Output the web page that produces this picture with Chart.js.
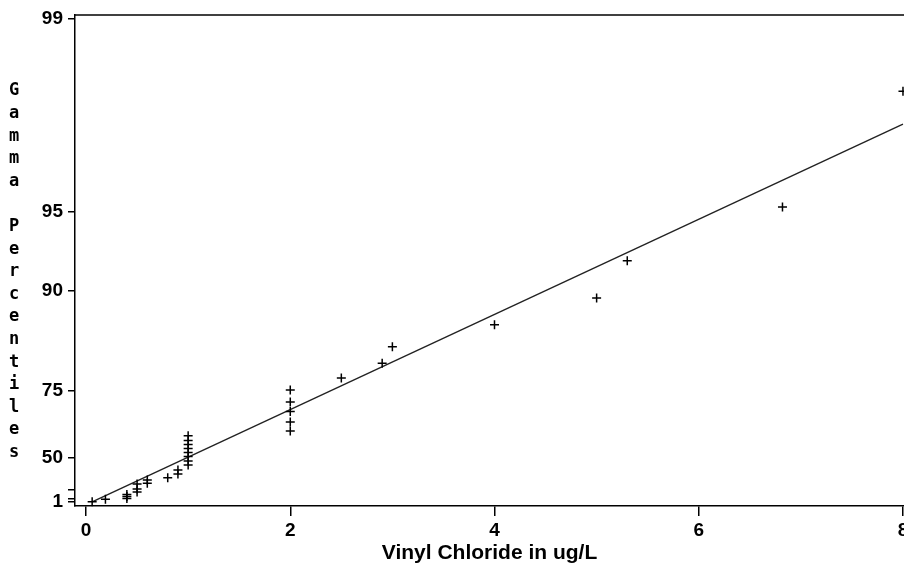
<!DOCTYPE html>
<html>
<head>
<meta charset="utf-8">
<script src="https://cdn.jsdelivr.net/npm/chart.js@4/dist/chart.umd.min.js"></script>
<style>
  html, body { margin: 0; padding: 0; background: #fff; overflow: hidden; }
  #wrap { width: 904px; height: 576px; overflow: hidden; }
</style>
</head>
<body>
<div id="wrap"><canvas id="grafico" width="910" height="576"></canvas></div>
<script>
// x axis
const xTicks = [0, 2, 4, 6, 8];

// y axis: gamma percentile scale (non linear), score = relative quantile position
const pctTicks  = [1, 10, 25, 50, 75, 90, 95, 99];
const pctLabels = ["1", "", "", "50", "75", "90", "95", "99"];
const pctScore  = [0, 0.68, 2.63, 9.21, 23.04, 43.75, 60.10, 100];

// observations: vinyl chloride (ug/L) and gamma plotting percentile
const conc = [0.06, 0.19, 0.4, 0.4, 0.4, 0.5, 0.5, 0.5, 0.6, 0.6, 0.8, 0.9, 0.9,
              1, 1, 1, 1, 1, 1, 1, 1, 2, 2, 2, 2, 2, 2.5, 2.9, 3.0, 4.0, 5.0, 5.3, 6.82, 8.0];
const pct  = [1.8, 8.4, 10.3, 13.5, 16.7, 20.7, 25.2, 29.2, 29.7, 32.3, 34.1, 37.0, 40.2,
              44.1, 47.3, 50.4, 51.9, 53.4, 54.9, 56.4, 58.1, 59.9, 63.3, 67.2, 70.8, 75.1,
              76.9, 79.1, 81.6, 84.9, 88.9, 91.9, 95.1, 97.5];

// fitted gamma line
const fitX   = [0.06, 8.0];
const fitPct = [1.54, 96.82];

const yTitle = "Gamma Percentiles";
const xTitle = "Vinyl Chloride in ug/L";

// percentile -> score along the plot's y axis
function toScore(p) {
    for (let i = 1; i < pctTicks.length; i++) {
        if (p <= pctTicks[i]) {
            const t = (p - pctTicks[i - 1]) / (pctTicks[i] - pctTicks[i - 1]);
            return pctScore[i - 1] + t * (pctScore[i] - pctScore[i - 1]);
        }
    }
    return pctScore[pctScore.length - 1];
}

const puntos = conc.map((c, i) => ({ x: c, y: toScore(pct[i]) }));
const linea = fitX.map((c, i) => ({ x: c, y: toScore(fitPct[i]) }));

const marco = {
    id: "marco",
    afterDraw(chart) {
        const { ctx, chartArea: a } = chart;
        ctx.save();
        ctx.strokeStyle = "#000";
        ctx.lineWidth = 1.5;
        ctx.beginPath();
        ctx.moveTo(a.left, a.top);
        ctx.lineTo(a.right, a.top);
        ctx.stroke();

        // vertical stacked y title
        ctx.fillStyle = "#000";
        ctx.font = "bold 17px 'DejaVu Sans Mono'";
        ctx.textAlign = "center";
        ctx.textBaseline = "middle";
        [...yTitle].forEach((ch, i) => {
            if (ch !== " ") ctx.fillText(ch, 14, 91 + i * 22.6);
        });
        ctx.restore();
    }
};

function sinPadding(scale) {
    scale.paddingLeft = 0;
    scale.paddingRight = 0;
    scale.paddingTop = 0;
    scale.paddingBottom = 0;
}

new Chart("grafico", {
    data: {
        datasets: [{
            type: "scatter",
            data: puntos,
            pointStyle: "cross",
            pointRadius: 4.5,
            pointBorderWidth: 1.5,
            borderColor: "#000",
            backgroundColor: "#000",
            clip: false
        }, {
            type: "line",
            data: linea,
            borderColor: "#222",
            borderWidth: 1.4,
            pointRadius: 0,
            fill: false
        }]
    },
    options: {
        responsive: false,
        animation: false,
        layout: { padding: { top: 15, right: 0, bottom: 0, left: 0 } },
        plugins: { legend: { display: false }, tooltip: { enabled: false } },
        scales: {
            x: {
                type: "linear",
                min: -0.108,
                max: 8.01,
                afterBuildTicks: (s) => { s.ticks = xTicks.map(v => ({ value: v })); },
                afterFit: (s) => { s.height = 70; sinPadding(s); },
                border: { display: true, color: "#000", width: 1.5 },
                grid: { display: true, drawOnChartArea: false, drawTicks: true, tickLength: 10, color: "#000", lineWidth: 1.5 },
                ticks: {
                    color: "#000",
                    padding: 3,
                    maxRotation: 0,
                    font: { family: "'Liberation Sans', Arial", size: 19, weight: "bold" }
                },
                title: {
                    display: true,
                    text: xTitle,
                    color: "#000",
                    padding: { top: 0, bottom: 10 },
                    font: { family: "'Liberation Sans', Arial", size: 21, weight: "bold" }
                }
            },
            y: {
                type: "linear",
                min: -0.83,
                max: 100.83,
                afterBuildTicks: (s) => { s.ticks = pctScore.map(v => ({ value: v })); },
                afterFit: (s) => { s.width = 75; sinPadding(s); },
                border: { display: true, color: "#000", width: 1.5 },
                grid: { display: true, drawOnChartArea: false, drawTicks: true, tickLength: 7, color: "#000", lineWidth: 1.5 },
                ticks: {
                    color: "#000",
                    padding: 5,
                    autoSkip: false,
                    callback: (v, i) => pctLabels[i],
                    font: { family: "'Liberation Sans', Arial", size: 19, weight: "bold" }
                }
            }
        }
    },
    plugins: [marco]
});
</script>
</body>
</html>
